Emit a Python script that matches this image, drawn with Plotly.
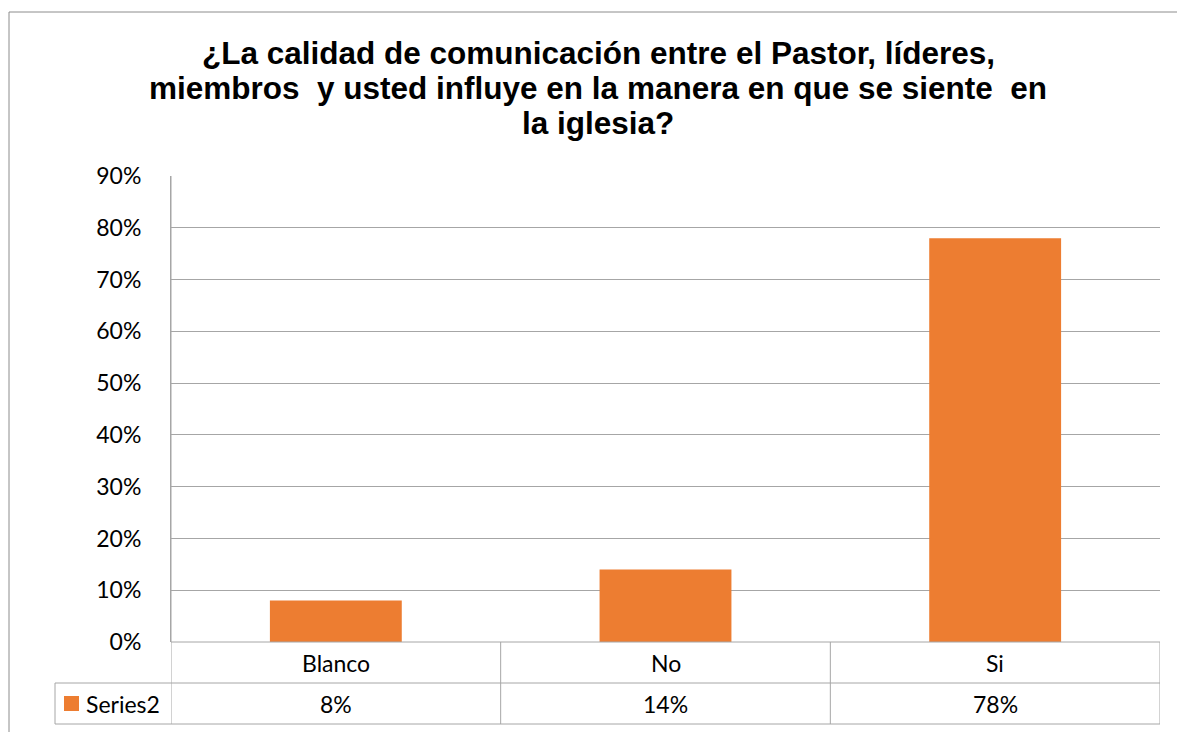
import plotly.graph_objects as go

# Survey answers and their shares (percent)
categories = ["Blanco", "No", "Si"]
values = [8, 14, 78]
series_name = "Series2"
title_lines = [
    "¿La calidad de comunicación entre el Pastor, líderes,",
    "miembros  y usted influye en la manera en que se siente  en",
    "la iglesia?",
]
y_ticks = [0, 10, 20, 30, 40, 50, 60, 70, 80, 90]
y_tick_labels = [f"{t}%" for t in y_ticks]

W, H = 1177, 732
BAR_COLOR = "#ED7D31"
GRID = "#A6A6A6"
BODY_FONT = "Lato"
TITLE_FONT = "Liberation Sans"
BODY_SIZE = 23


def px(x):
    return x / W


def py(y):
    return 1 - y / H


# plot-area edges in pixels
PL, PR, PT, PB = 171, 1160, 176, 642
ROW1, ROW2 = 683, 724  # bottoms of the data-table rows
LEG_L = 55             # left edge of the legend cell

fig = go.Figure(
    go.Bar(
        x=categories,
        y=values,
        name=series_name,
        marker=dict(color=BAR_COLOR, line=dict(width=0)),
        width=0.4,
        showlegend=False,
    )
)

n = len(categories)
shapes = []
line = dict(color=GRID, width=1)
frame = dict(color="#8C8C8C", width=1)

# outer chart frame: only the top and left edges fall inside the page
shapes.append(dict(type="line", xref="paper", yref="paper",
                   x0=px(9), x1=1, y0=py(12), y1=py(12), line=frame))
shapes.append(dict(type="line", xref="paper", yref="paper",
                   x0=px(9), x1=px(9), y0=0, y1=py(12), line=frame))

# data-table horizontal rules
shapes.append(dict(type="line", xref="paper", yref="paper",
                   x0=px(PL), x1=px(PR), y0=py(PB), y1=py(PB), line=line))
for yy in (ROW1, ROW2):
    shapes.append(dict(type="line", xref="paper", yref="paper",
                       x0=px(LEG_L), x1=px(PR), y0=py(yy), y1=py(yy), line=line))

# data-table vertical rules at the category boundaries
for i in range(n + 1):
    xb = i - 0.5
    top = PT if i == 0 else PB
    shapes.append(dict(type="line", xref="x", yref="paper",
                       x0=xb, x1=xb, y0=py(top), y1=py(ROW2), line=line))
shapes.append(dict(type="line", xref="paper", yref="paper",
                   x0=px(LEG_L), x1=px(LEG_L), y0=py(ROW1), y1=py(ROW2), line=line))

# legend key inside the table
shapes.append(dict(type="rect", xref="paper", yref="paper",
                   x0=px(64), x1=px(79), y0=py(711), y1=py(696),
                   line=dict(width=0), fillcolor=BAR_COLOR))

annotations = []
title_baselines = [66, 101, 136]
for text, yb in zip(title_lines, title_baselines):
    annotations.append(dict(
        text=f"<b>{text}</b>", xref="paper", yref="paper",
        x=px(598), y=py(yb + 7), xanchor="center", yanchor="bottom",
        showarrow=False, font=dict(family=TITLE_FONT, size=31.5, color="#000000"),
    ))

body = dict(family=BODY_FONT, size=BODY_SIZE, color="#000000")
for c, v in zip(categories, values):
    annotations.append(dict(text=c, xref="x", yref="paper", x=c,
                            y=py((PB + ROW1) / 2), xanchor="center", yanchor="middle",
                            showarrow=False, font=body))
    annotations.append(dict(text=f"{v}%", xref="x", yref="paper", x=c,
                            y=py((ROW1 + ROW2) / 2), xanchor="center", yanchor="middle",
                            showarrow=False, font=body))

annotations.append(dict(text=series_name, xref="paper", yref="paper", x=px(84),
                        y=py((ROW1 + ROW2) / 2), xanchor="left", yanchor="middle",
                        showarrow=False, font=body))

fig.update_layout(
    width=W, height=H,
    margin=dict(l=0, r=0, t=0, b=0, pad=0),
    paper_bgcolor="white", plot_bgcolor="white",
    shapes=shapes,
    annotations=annotations,
    xaxis=dict(domain=[px(PL), px(PR)], range=[-0.5, n - 0.5],
               showticklabels=False, showgrid=False, zeroline=False,
               showline=False, ticks="", automargin=False),
    yaxis=dict(domain=[py(PB), py(PT)], range=[0, 90],
               tickmode="array", tickvals=y_ticks, ticktext=y_tick_labels,
               showgrid=True, gridcolor=GRID, gridwidth=1,
               zeroline=False, showline=True, linecolor=GRID, linewidth=1,
               ticks="", ticklabelstandoff=24, automargin=False,
               tickfont=body),
    font=dict(family=BODY_FONT),
)

fig.write_html("out.html")
